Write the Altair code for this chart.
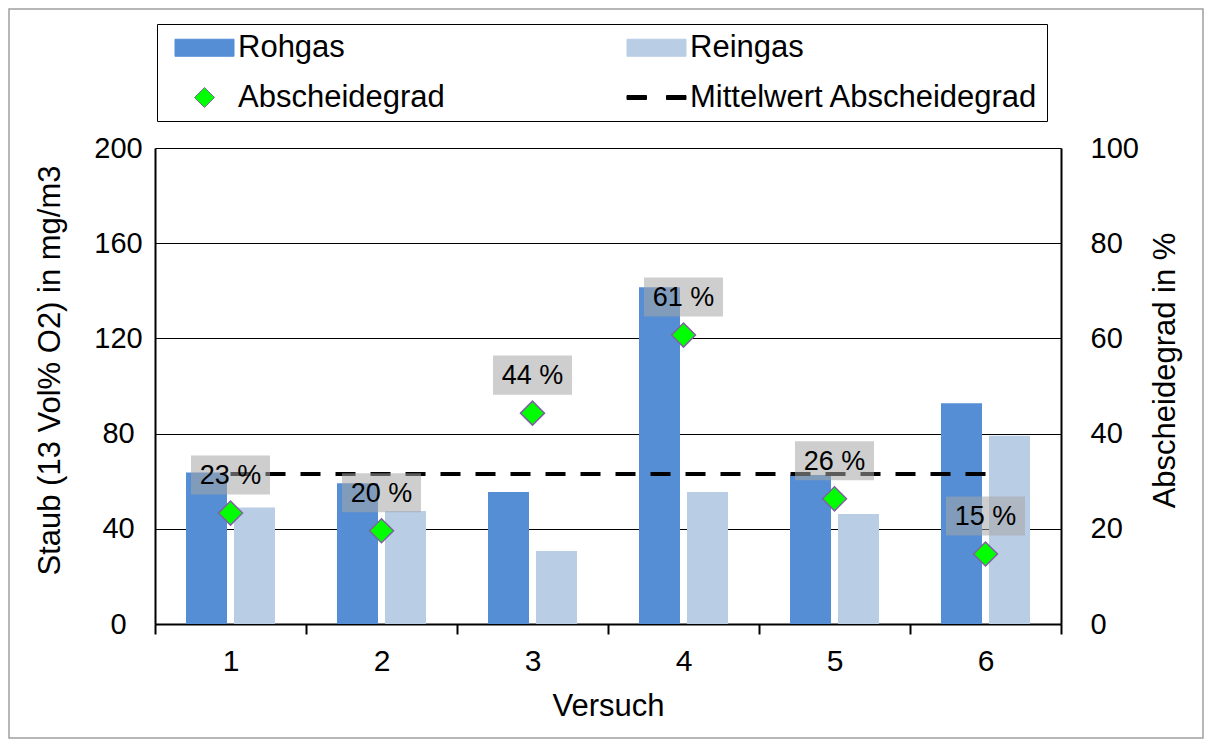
import altair as alt
import pandas as pd

# ---- data ----
versuch = ["1", "2", "3", "4", "5", "6"]
rohgas = [63.7, 59.1, 55.5, 141.5, 62.6, 92.7]
reingas = [48.9, 47.5, 30.7, 55.5, 46.2, 79.1]
abscheidegrad = [23.3, 19.6, 44.3, 60.7, 26.3, 14.7]
labels = ["23 %", "20 %", "44 %", "61 %", "26 %", "15 %"]
mittelwert = 31.5

series_names = ["Rohgas", "Reingas", "Abscheidegrad", "Mittelwert Abscheidegrad"]
fill_colors = ["#558ED5", "#B9CDE5", "#00FF00", "#000000"]
stroke_colors = ["#558ED5", "#B9CDE5", "#7F63A1", "#000000"]

# legend / point shapes (unit-space SVG paths)
rect_path = "M-1.967,-0.567L1.967,-0.567L1.967,0.567L-1.967,0.567Z"
diamond_path = "M-0.667,0L0,-0.667L0.667,0L0,0.667Z"
dash_path = ("M-1.967,-0.133L-0.667,-0.133L-0.667,0.133L-1.967,0.133Z"
             "M0.667,-0.133L1.967,-0.133L1.967,0.133L0.667,0.133Z")
shape_range = [rect_path, rect_path, diamond_path, dash_path]
box_path = "M-1,-0.494L1,-0.494L1,0.494L-1,0.494Z"

FONT = "Liberation Sans"

bars_df = pd.DataFrame({
    "Versuch": versuch * 2,
    "Serie": ["Rohgas"] * 6 + ["Reingas"] * 6,
    "Staub": rohgas + reingas,
})
pts_df = pd.DataFrame({
    "Versuch": versuch,
    "Serie": ["Abscheidegrad"] * 6,
    "Wert": abscheidegrad,
    "Label": labels,
})
mean_df = pd.DataFrame({
    "Versuch": versuch,
    "Wert": [mittelwert] * 6,
})
frame_df = pd.DataFrame({"k": [0]})

legend = alt.Legend(
    orient="none", legendX=2, legendY=-124, columns=2, direction="horizontal",
    title=None,
    labelFontSize=31, labelFont=FONT, labelColor="black", labelLimit=600,
    symbolSize=900, symbolStrokeWidth=1, symbolOffset=24, labelOffset=18,
    columnPadding=172, rowPadding=18, padding=8,
    strokeColor="black", fillColor="white",
)

x_enc = alt.X(
    "Versuch:N", sort=versuch,
    scale=alt.Scale(paddingInner=0, paddingOuter=0),
    axis=alt.Axis(
        title="Versuch", labelAngle=0, labelFontSize=30, labelFont=FONT,
        labelColor="black", labelPadding=12, tickBand="extent", tickSize=10,
        tickColor="black", tickWidth=2, domainColor="black", domainWidth=2,
        titleFontSize=31, titleFont=FONT, titleFontWeight="normal",
        titleColor="black", titleY=82, titleBaseline="middle", grid=False,
    ),
)

fill_enc = alt.Fill(
    "Serie:N",
    scale=alt.Scale(domain=series_names, range=fill_colors),
    legend=legend,
)

bars = alt.Chart(bars_df).mark_bar(opacity=1).encode(
    x=x_enc,
    xOffset=alt.XOffset(
        "Serie:N", sort=["Rohgas", "Reingas"],
        scale=alt.Scale(paddingInner=0.146, paddingOuter=0.646),
    ),
    y=alt.Y(
        "Staub:Q",
        scale=alt.Scale(domain=[0, 200], nice=False),
        axis=alt.Axis(
            title="Staub (13 Vol% O2) in mg/m3", values=[0, 40, 80, 120, 160, 200],
            grid=True, gridColor="black", gridWidth=1.2, ticks=False,
            domainColor="black", domainWidth=2, labelFontSize=29,
            labelFont=FONT, labelColor="black", labelAlign="center",
            labelPadding=37, labelBaseline="middle",
            titleFontSize=31, titleFont=FONT, titleFontWeight="normal",
            titleColor="black", titleAngle=270, titleX=-105, titleY=222,
            titleBaseline="middle", titleAlign="center",
        ),
    ),
    fill=fill_enc,
)

y_right = alt.Y(
    "Wert:Q",
    scale=alt.Scale(domain=[0, 100], nice=False),
    axis=alt.Axis(
        orient="right", title="Abscheidegrad in %",
        values=[0, 20, 40, 60, 80, 100], grid=False, ticks=False,
        domainColor="black", domainWidth=2, labelFontSize=29,
        labelFont=FONT, labelColor="black", labelAlign="left",
        labelPadding=29, labelBaseline="middle",
        titleFontSize=31, titleFont=FONT, titleFontWeight="normal",
        titleColor="black", titleAngle=270, titleX=104, titleY=222,
        titleBaseline="middle", titleAlign="center",
    ),
)

mean_line = alt.Chart(mean_df).mark_line(
    color="black", strokeWidth=4, strokeDash=[20, 15]
).encode(x=x_enc, y=y_right)

boxes = alt.Chart(pts_df).mark_point(
    shape=box_path, size=6241, filled=True, fill="#A6A6A6",
    fillOpacity=0.55, opacity=1, strokeWidth=0, yOffset=-38,
).encode(x=x_enc, y=y_right)

texts = alt.Chart(pts_df).mark_text(
    fontSize=27, font=FONT, color="black", dy=-37, baseline="middle",
    align="center",
).encode(x=x_enc, y=y_right, text="Label:N")

points = alt.Chart(pts_df).mark_point(
    filled=True, size=1296, strokeWidth=1.5, opacity=1,
).encode(
    x=x_enc, y=y_right,
    fill=fill_enc,
    stroke=alt.Stroke("Serie:N", scale=alt.Scale(domain=series_names, range=stroke_colors), legend=legend),
    shape=alt.Shape("Serie:N", scale=alt.Scale(domain=series_names, range=shape_range), legend=legend),
)

frame = alt.Chart(frame_df).mark_rect(
    fill="transparent", stroke="#A0A0A0", strokeWidth=1.5
).encode(
    x=alt.value(-146), x2=alt.value(1048), y=alt.value(-139), y2=alt.value(590)
)

right = alt.layer(mean_line, boxes, texts, points)

chart = alt.layer(frame, bars, right).resolve_scale(y="independent").properties(
    width=906, height=476,
    autosize=alt.AutoSizeParams(type="none"),
    padding={"left": 147, "top": 140, "right": 143, "bottom": 115},
    background="white",
).configure_view(strokeWidth=0)

chart.save("out.html", embed_options={"renderer": "svg", "actions": False})
